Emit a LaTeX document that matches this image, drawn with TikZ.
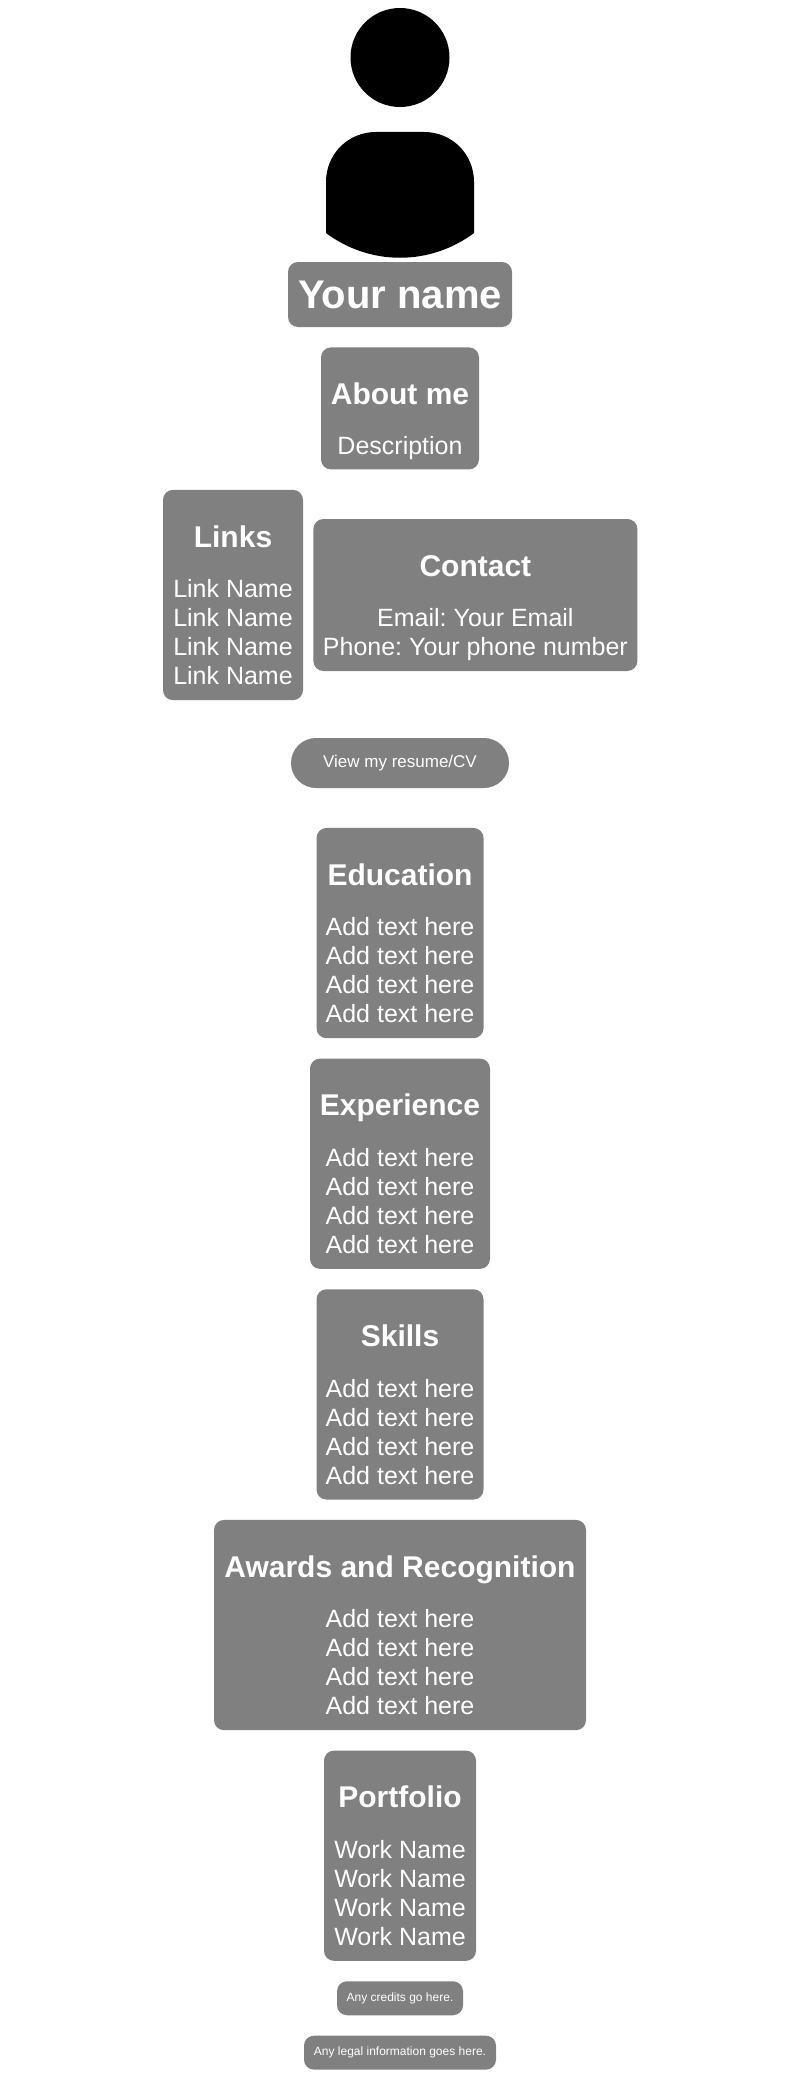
\documentclass[tikz,border=0pt]{standalone}
\usepackage{fontspec}
\setmainfont{Liberation Sans}
\frenchspacing
\usepackage{tikz}
\usetikzlibrary{positioning}
\definecolor{cardgray}{HTML}{808080}
\newcommand{\cardhead}[2][42pt]{{\fontsize{30}{30}\selectfont\bfseries\rule{0pt}{#1}#2}}

\begin{document}
\begin{tikzpicture}[
        x=1pt, y=-1pt,
        node distance=20pt and 10pt,
        card/.style={rectangle, fill=cardgray, text=white, rounded corners=10pt, inner sep=0pt, align=center, font=\fontsize{25}{29}\selectfont},
        tallcard/.style={card, minimum height=210.25pt},
        smallcard/.style={card, font=\fontsize{12}{14}\selectfont, minimum height=34pt}
    ]
        \useasboundingbox (0,0) rectangle (800,2095);

        \node[circle, fill=black, inner sep=0pt, minimum size=99pt] (head) at (400,57.5) {};
        \fill[black] (326,233) -- (326,182) .. controls (326,154) and (348,132) .. (376,132) -- (424,132) .. controls (452,132) and (474,154) .. (474,182) -- (474,233) .. controls (430,266) and (370,266) .. (326,233) -- cycle;

        \node[card, minimum width=224pt, minimum height=65pt, font=\fontsize{40}{46}\selectfont\bfseries] (name) at (400,294.5) {Your name};
        \node[card, minimum width=158pt, minimum height=122pt, below=of name] (about) {\cardhead[47pt]{About me}\\[21pt]Description};

        \node[tallcard, minimum width=140pt] (links) at (233,595) {\cardhead{Links}\\[21pt]Link Name\\Link Name\\Link Name\\Link Name};
        \node[card, minimum width=324pt, minimum height=152pt, right=of links] (contact) {\cardhead[47pt]{Contact}\\[21pt]Email: Your Email\\Phone: Your phone number};

        \node[card, minimum width=218pt, minimum height=50pt, rounded corners=25pt, font=\fontsize{17}{20}\selectfont] (resume) at (400,763) {View my resume/CV};

        \node[tallcard, minimum width=167pt] (education) at (400,933.1) {\cardhead{Education}\\[21.5pt]Add text here\\Add text here\\Add text here\\Add text here};
        \node[tallcard, minimum width=180pt, below=of education] (experience) {\cardhead{Experience}\\[21.5pt]Add text here\\Add text here\\Add text here\\Add text here};
        \node[tallcard, minimum width=167pt, below=of experience] (skills) {\cardhead{Skills}\\[21.5pt]Add text here\\Add text here\\Add text here\\Add text here};
        \node[tallcard, minimum width=372pt, below=of skills] (awards) {\cardhead{Awards and Recognition}\\[21.5pt]Add text here\\Add text here\\Add text here\\Add text here};
        \node[tallcard, minimum width=152pt, below=of awards] (portfolio) {\cardhead{Portfolio}\\[21.5pt]Work Name\\Work Name\\Work Name\\Work Name};

        \node[smallcard, minimum width=126pt, below=of portfolio] (credits) {Any credits go here.};
        \node[smallcard, minimum width=192pt, below=of credits] (legal) {Any legal information goes here.};
    \end{tikzpicture}
\end{document}
